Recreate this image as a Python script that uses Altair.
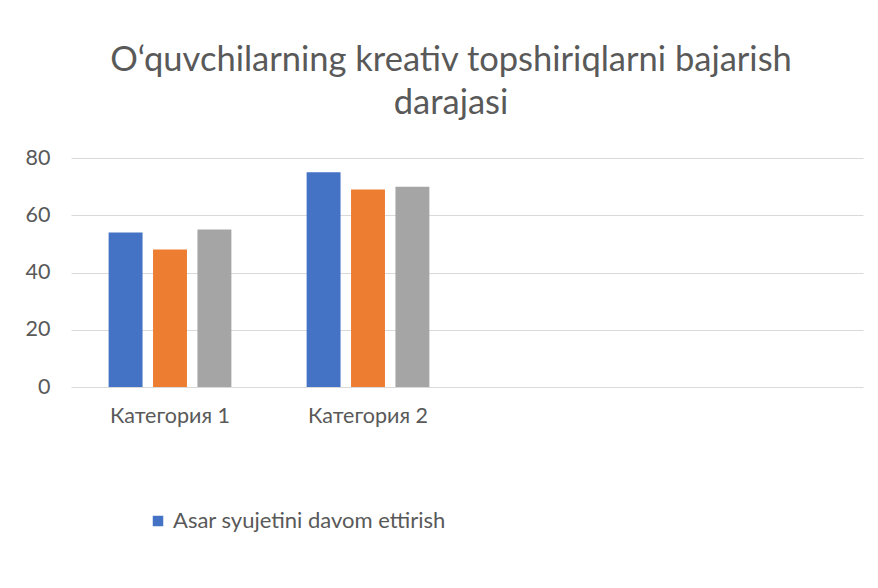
import altair as alt
import pandas as pd

categories = ["Категория 1", "Категория 2", " ", "  "]
series = ["Asar syujetini davom ettirish", "Ряд 2", "Ряд 3"]
values_cat1 = [54, 48, 55]
values_cat2 = [75, 69, 70]
colors = ["#4472C4", "#ED7D31", "#A5A5A5"]
y_ticks = [0, 20, 40, 60, 80]

rows = []
for cat, vals in zip(categories[:2], [values_cat1, values_cat2]):
    for s, v in zip(series, vals):
        rows.append({"category": cat, "series": s, "value": v})
df = pd.DataFrame(rows)

FONT = "Lato"
TXT = "#595959"

chart = alt.Chart(df).mark_bar().encode(
    x=alt.X(
        "category:N",
        sort=categories,
        scale=alt.Scale(domain=categories, paddingInner=0.38, paddingOuter=0.19),
        axis=alt.Axis(title=None, labelAngle=0, ticks=False, domain=False,
                      labelPadding=18, labelFontSize=21.5, labelColor=TXT, labelFont=FONT),
    ),
    xOffset=alt.XOffset(
        "series:N", sort=series,
        scale=alt.Scale(domain=series, paddingInner=0.236, paddingOuter=0),
    ),
    y=alt.Y(
        "value:Q",
        scale=alt.Scale(domain=[0, 80]),
        axis=alt.Axis(values=y_ticks, title=None, domain=False, ticks=False,
                      gridColor="#D9D9D9", gridWidth=1, labelPadding=21,
                      labelFontSize=21.5, labelColor=TXT, labelFont=FONT),
    ),
    color=alt.Color(
        "series:N", sort=series,
        scale=alt.Scale(domain=series, range=colors),
        legend=alt.Legend(values=[series[0]], orient="none", legendX=76, legendY=352,
                          title=None, symbolType="square", symbolSize=110,
                          symbolStrokeWidth=0, labelFontSize=22, labelColor=TXT,
                          labelFont=FONT, labelOffset=4, labelLimit=0),
    ),
).properties(
    width=792,
    height=229,
    background="white",
    title=alt.TitleParams(
        text=["O‘quvchilarning kreativ topshiriqlarni bajarish", "darajasi"],
        fontSize=34.5, font=FONT, fontWeight="normal", color=TXT,
        anchor="middle", frame="group", dx=-16, lineHeight=43, offset=26,
    ),
    autosize=alt.AutoSizeParams(type="none"),
    padding={"left": 63, "top": 150, "right": 7, "bottom": 180},
).configure_view(stroke=None)

chart.save("out.html", embed_options={"renderer": "svg", "actions": False})
